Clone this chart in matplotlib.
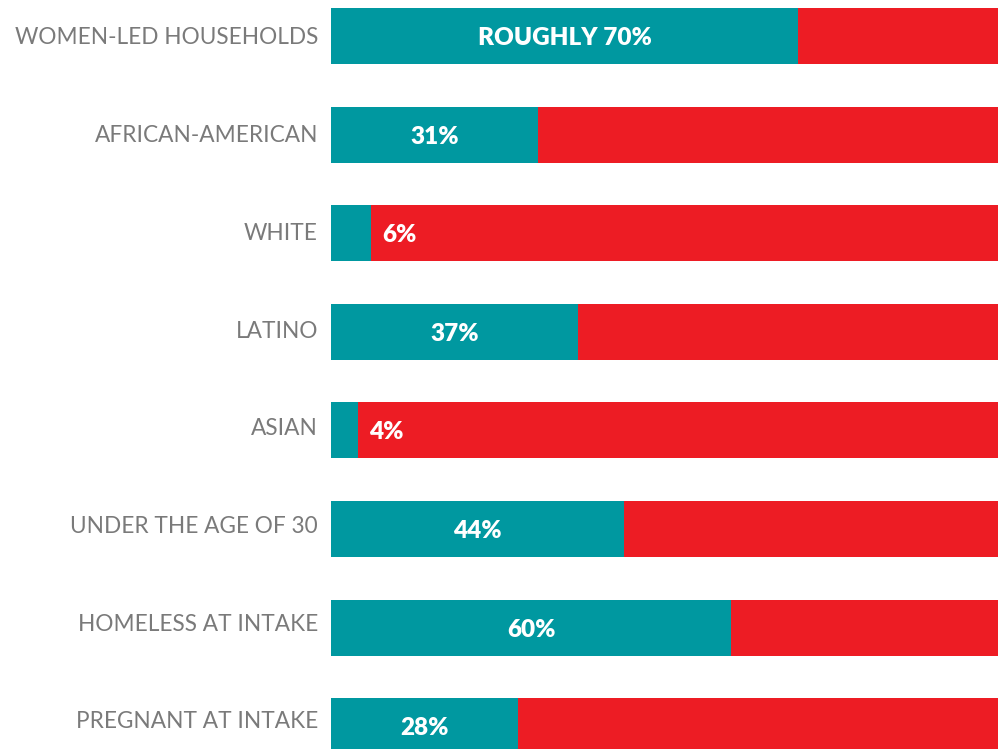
import numpy as np
import matplotlib
matplotlib.use('Agg')
import matplotlib.pyplot as plt

# Data
categories = ['WOMEN-LED HOUSEHOLDS', 'AFRICAN-AMERICAN', 'WHITE', 'LATINO', 'ASIAN',
              'UNDER THE AGE OF 30', 'HOMELESS AT INTAKE', 'PREGNANT AT INTAKE']
values = [70, 31, 6, 37, 4, 44, 60, 28]
value_labels = ['ROUGHLY 70%', '31%', '6%', '37%', '4%', '44%', '60%', '28%']

teal = '#0098a0'
red = '#ed1c24'

fig = plt.figure(figsize=(10.04, 7.49), dpi=100)
ax = fig.add_axes([331 / 1004, 0, 667 / 1004, 1])

y = np.arange(len(categories))
rest = [100 - v for v in values]
ax.barh(y, values, height=0.568, color=teal)
ax.barh(y, rest, left=values, height=0.568, color=red)

ax.set_xlim(0, 100)
ax.set_ylim(7.231, -0.365)
ax.axis('off')

for i, (cat, v, lab) in enumerate(zip(categories, values, value_labels)):
    ax.annotate(cat, xy=(0, i), xytext=(-13, -2 + 0.9 * i), textcoords='offset pixels',
                ha='right', va='center', fontsize=16.3, color='#7a7a7a',
                family='Lato', fontweight='normal', annotation_clip=False)
    if v < 10:
        ax.annotate(lab, xy=(v, i), xytext=(11, -2), textcoords='offset pixels',
                    ha='left', va='center', fontsize=17.5, color='white',
                    family='Lato', fontweight='heavy')
    else:
        ax.annotate(lab, xy=(v / 2, i), xytext=(0, -2), textcoords='offset pixels',
                    ha='center', va='center', fontsize=17.5, color='white',
                    family='Lato', fontweight='heavy')

plt.savefig('out.png', dpi=100)
